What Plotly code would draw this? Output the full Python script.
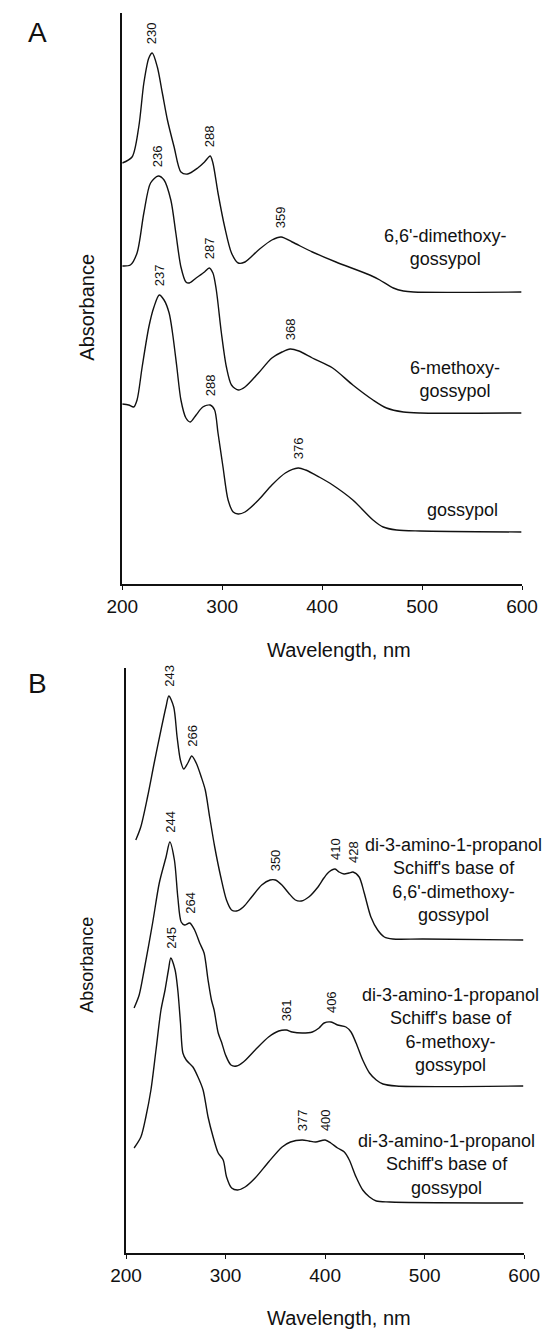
import numpy as np
import plotly.graph_objects as go

# ---------------- data ----------------
# Panel A
a_dimethoxy_wl = [200, 209.8, 216.5, 221.6, 226.6, 230, 235.1, 240.1, 245.2, 251.9, 258.7, 265.4, 275.5, 282.3, 288,
                  290.7, 295.8, 302.5, 309.3, 316, 322.8, 336.3, 349.7, 359, 370, 390.2, 413.8, 447.6, 457.7, 471.2,
                  481.3, 491.4, 599.3]
a_dimethoxy_abs = [4.21, 4.27, 4.57, 5.01, 5.26, 5.31, 5.17, 4.91, 4.64, 4.37, 4.12, 4.10, 4.16, 4.22, 4.28,
                   4.21, 3.91, 3.57, 3.31, 3.21, 3.22, 3.34, 3.44, 3.47, 3.42, 3.32, 3.22, 3.09, 3.04, 2.96,
                   2.93, 2.92, 2.92]

a_methoxy_wl = [200, 208.1, 214.8, 221.6, 228.3, 236, 241.8, 248.6, 253.6, 258.7, 263.7, 267.1, 273.9, 282.3, 287,
                290.7, 294.1, 299.2, 304.2, 309.3, 316, 322.8, 336.3, 349.7, 359.9, 368, 376.7, 390.2, 410.5, 430.7,
                450.9, 464.4, 481.3, 498.1, 599.3]
a_methoxy_abs = [3.18, 3.19, 3.31, 3.71, 4.01, 4.08, 4.04, 3.84, 3.51, 3.17, 3.02, 3.01, 3.06, 3.12, 3.16,
                 3.11, 2.94, 2.51, 2.17, 1.99, 1.94, 1.97, 2.11, 2.26, 2.32, 2.35, 2.33, 2.26, 2.16, 1.99,
                 1.84, 1.76, 1.72, 1.71, 1.71]

a_gossypol_wl = [200, 206.4, 211.5, 214.8, 219.9, 226.6, 231.7, 237, 241.8, 246.9, 250.3, 254.6, 258.7, 263.7, 268.1,
                 273.9, 280.6, 288, 292.4, 295.8, 300.8, 305.9, 311, 316, 322.8, 336.3, 349.7, 363.2, 376, 383.5,
                 397, 410.5, 430.7, 450.9, 461, 474.5, 498.1, 599.3]
a_gossypol_abs = [1.80, 1.79, 1.77, 1.84, 2.17, 2.57, 2.77, 2.89, 2.84, 2.71, 2.51, 2.17, 1.84, 1.66, 1.62,
                  1.69, 1.77, 1.79, 1.74, 1.51, 1.17, 0.84, 0.72, 0.70, 0.72, 0.84, 0.99, 1.11, 1.16, 1.14,
                  1.07, 0.99, 0.84, 0.64, 0.57, 0.54, 0.53, 0.52]

# Panel B
b_dimethoxy_wl = [209.8, 214.8, 221.6, 228.3, 235.1, 240.1, 243, 247.9, 251.3, 254.6, 258, 262.1, 266, 270.5, 275.6,
                  279.6, 284, 289.1, 295.2, 300.9, 306, 311, 317.8, 326.2, 336.3, 344.8, 350, 356.6, 363.3, 370.1,
                  376.2, 383.6, 392, 398.8, 403.8, 410, 414, 419, 424.1, 428, 434.2, 439.3, 446, 452.8, 459.5,
                  468, 498.4, 599]
b_dimethoxy_abs = [4.13, 4.26, 4.56, 4.90, 5.23, 5.46, 5.57, 5.46, 5.16, 4.93, 4.84, 4.90, 4.97, 4.90, 4.76,
                   4.63, 4.36, 4.06, 3.76, 3.53, 3.43, 3.42, 3.46, 3.56, 3.68, 3.73, 3.73, 3.68, 3.60, 3.53,
                   3.52, 3.56, 3.65, 3.75, 3.81, 3.84, 3.81, 3.79, 3.80, 3.81, 3.76, 3.60, 3.36, 3.23, 3.16,
                   3.14, 3.14, 3.13]

b_methoxy_wl = [208.1, 213.2, 218.2, 226.7, 233.4, 240.2, 244, 248.6, 252, 255.4, 258.8, 264, 268.9, 274, 278.4,
                282.4, 285.8, 288.5, 292.6, 295.9, 300, 305.4, 311.1, 317.9, 329.7, 343.2, 353.4, 361, 366.9, 377,
                387.2, 393.9, 399, 406, 412.5, 420.9, 426, 431.1, 437.8, 444.6, 451.4, 458.1, 471.6, 599]
b_methoxy_abs = [2.45, 2.58, 2.83, 3.30, 3.70, 3.96, 4.11, 3.93, 3.56, 3.31, 3.28, 3.30, 3.23, 3.10, 3.00,
                 2.73, 2.53, 2.43, 2.20, 2.11, 1.98, 1.88, 1.87, 1.91, 2.03, 2.16, 2.22, 2.23, 2.21, 2.20,
                 2.21, 2.25, 2.30, 2.31, 2.28, 2.26, 2.21, 2.10, 1.93, 1.80, 1.73, 1.69, 1.67, 1.67]

b_gossypol_wl = [208.1, 214.9, 219.9, 225, 230.1, 235.1, 239.2, 242.6, 245, 249.3, 252, 254.7, 257.1, 260.5, 267.2,
                 272.3, 277.4, 282.4, 287.5, 292.6, 297.6, 301, 306.1, 312.2, 319.6, 329.7, 343.2, 356.8, 365.2, 377,
                 383.8, 390.5, 400, 405.7, 412.5, 419.3, 424.3, 431.1, 437.8, 444.6, 451.4, 464.9, 599]
b_gossypol_abs = [1.05, 1.16, 1.36, 1.63, 2.03, 2.43, 2.63, 2.83, 2.95, 2.83, 2.63, 2.30, 2.00, 1.93, 1.86,
                  1.76, 1.63, 1.36, 1.16, 1.00, 0.93, 0.76, 0.65, 0.63, 0.66, 0.75, 0.91, 1.06, 1.11, 1.13,
                  1.12, 1.11, 1.13, 1.10, 1.05, 1.01, 0.93, 0.76, 0.63, 0.56, 0.52, 0.51, 0.50]

# peak labels (nm)
a_dimethoxy_peaks = [230, 288, 359]
a_methoxy_peaks = [236, 287, 368]
a_gossypol_peaks = [237, 288, 376]
b_dimethoxy_peaks = [243, 266, 350, 410, 428]
b_methoxy_peaks = [244, 264, 361, 406]
b_gossypol_peaks = [245, 377, 400]

a_names = ["6,6'-dimethoxy-<br>gossypol", "6-methoxy-<br>gossypol", "gossypol"]
b_names = ["di-3-amino-1-propanol<br>Schiff's base of<br>6,6'-dimethoxy-<br>gossypol",
           "di-3-amino-1-propanol<br>Schiff's base of<br>6-methoxy-<br>gossypol",
           "di-3-amino-1-propanol<br>Schiff's base of<br>gossypol"]

x_ticks = [200, 300, 400, 500, 600]
x_title = "Wavelength, nm"
y_title = "Absorbance"

# ---------------- figure ----------------
FONT = "Liberation Sans, Arial, sans-serif"
W, H = 560, 1330
LINE = dict(color="#111111", width=1.4, shape="spline", smoothing=0.8)

fig = go.Figure()

panel_a = [(a_dimethoxy_wl, a_dimethoxy_abs, a_dimethoxy_peaks),
           (a_methoxy_wl, a_methoxy_abs, a_methoxy_peaks),
           (a_gossypol_wl, a_gossypol_abs, a_gossypol_peaks)]
panel_b = [(b_dimethoxy_wl, b_dimethoxy_abs, b_dimethoxy_peaks),
           (b_methoxy_wl, b_methoxy_abs, b_methoxy_peaks),
           (b_gossypol_wl, b_gossypol_abs, b_gossypol_peaks)]

annotations = []
for panel, xr, yr in [(panel_a, "x", "y"), (panel_b, "x2", "y2")]:
    for wl, ab, peaks in panel:
        fig.add_trace(go.Scatter(x=wl, y=ab, mode="lines", line=LINE, xaxis=xr, yaxis=yr,
                                 hoverinfo="x+y", showlegend=False))
        for p in peaks:
            annotations.append(dict(x=p, y=float(np.interp(p, wl, ab)), xref=xr, yref=yr,
                                    text=str(p), textangle=-90, showarrow=False,
                                    xanchor="center", yanchor="middle", yshift=20,
                                    font=dict(family=FONT, size=13, color="#111")))

# compound labels (positioned in data units of each panel)
a_label_pos = [(523, 3.365), (533, 2.05), (540, 0.74)]
b_label_pos = [(529, 3.73), (526, 2.23), (522, 0.89)]
for name, (lx, ly) in zip(a_names, a_label_pos):
    annotations.append(dict(x=lx, y=ly, xref="x", yref="y", text=name, showarrow=False,
                            xanchor="center", yanchor="middle", align="center",
                            font=dict(family=FONT, size=18, color="#111")))
for name, (lx, ly) in zip(b_names, b_label_pos):
    annotations.append(dict(x=lx, y=ly, xref="x2", yref="y2", text=name, showarrow=False,
                            xanchor="center", yanchor="middle", align="center",
                            font=dict(family=FONT, size=18, color="#111")))

# panel letters and axis titles
def px(x): return x / W
def py(y): return 1 - y / H

for txt, x, y, size in [("A", 23, 32, 28), ("B", 23, 683, 28)]:
    annotations.append(dict(x=px(x), y=py(y), xref="paper", yref="paper", text=txt, showarrow=False,
                            xanchor="center", yanchor="middle", font=dict(family=FONT, size=size, color="#111")))
for y, size in [(650, 20), (1318, 20)]:
    annotations.append(dict(x=px(343), y=py(y), xref="paper", yref="paper", text=x_title, showarrow=False,
                            xanchor="center", yanchor="middle", font=dict(family=FONT, size=size, color="#111")))
for y, size in [(307, 20), (965, 18)]:
    annotations.append(dict(x=px(75), y=py(y), xref="paper", yref="paper", text=y_title, showarrow=False,
                            textangle=-90, xanchor="center", yanchor="middle",
                            font=dict(family=FONT, size=size, color="#111")))

xaxis_common = dict(range=[200, 600], tickvals=x_ticks, ticks="outside", ticklen=4, tickwidth=1,
                    tickcolor="#111", showline=True, linecolor="#111", linewidth=2, showgrid=False,
                    zeroline=False, tickfont=dict(family=FONT, size=19, color="#111"), fixedrange=True)
yaxis_common = dict(showline=True, linecolor="#111", linewidth=2, showticklabels=False, ticks="",
                    showgrid=False, zeroline=False, fixedrange=True)

fig.update_layout(
    width=W, height=H, margin=dict(l=0, r=0, t=0, b=0),
    paper_bgcolor="white", plot_bgcolor="white", showlegend=False,
    xaxis=dict(domain=[px(112.7), px(536.7)], anchor="y", **xaxis_common),
    yaxis=dict(domain=[py(584), py(13)], range=[0, 5.71], anchor="x", **yaxis_common),
    xaxis2=dict(domain=[px(116.7), px(539)], anchor="y2", **xaxis_common),
    yaxis2=dict(domain=[py(1253), py(667.7)], range=[0, 5.853], anchor="x2", **yaxis_common),
    annotations=annotations,
)

fig.write_html("out.html", config={"displayModeBar": False},
               post_script="document.body.style.margin='0';document.body.style.padding='0';")
